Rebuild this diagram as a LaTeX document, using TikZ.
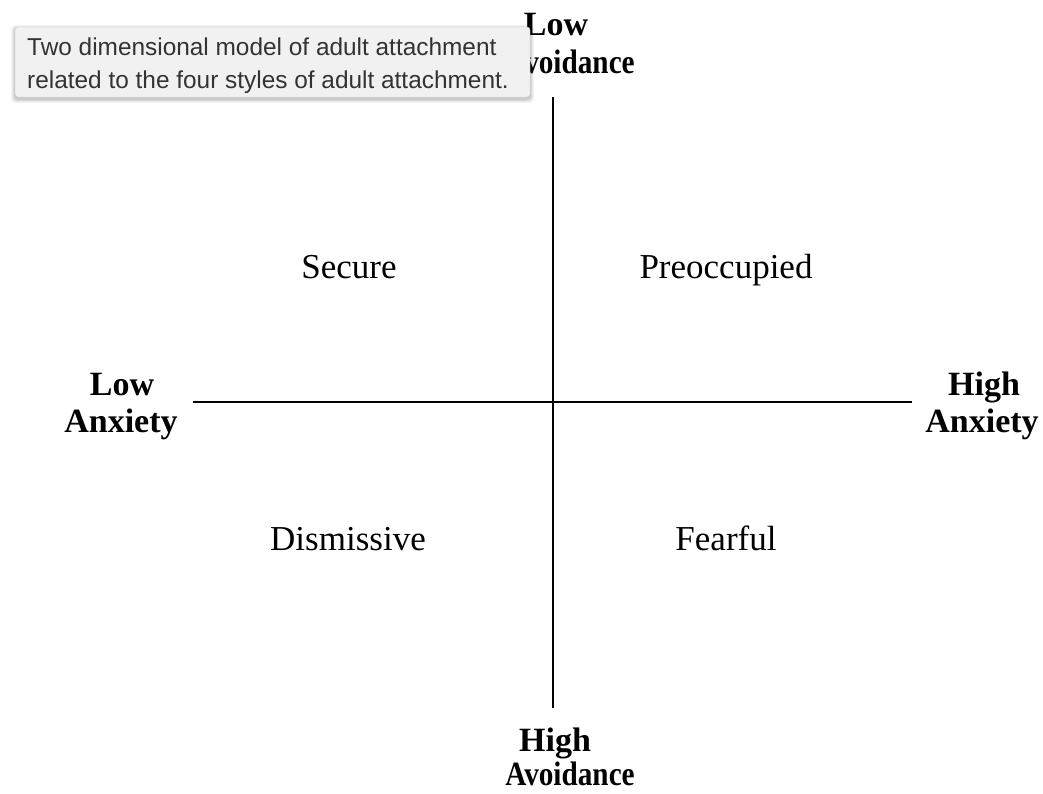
\documentclass[tikz,border=0pt]{standalone}
\usepackage{graphicx}
\usepackage{fontspec}
\setmainfont{Liberation Serif}
\newfontfamily\tipfont{Liberation Sans}
\definecolor{tipfill}{HTML}{F1F1F1}
\definecolor{tipedge}{HTML}{CFCFCF}
\definecolor{tiptext}{HTML}{333333}
\newcommand{\narrowav}{\scalebox{0.86}[1]{Avoidance}}
\begin{document}
\begin{tikzpicture}[x=1pt,y=-1pt,
  axislabel/.style={anchor=base,inner sep=0pt,font=\bfseries\fontsize{34}{37}\selectfont},
  quadlabel/.style={anchor=base,inner sep=0pt,font=\fontsize{35}{38}\selectfont},
  axisline/.style={line width=2pt,black},
  tiptextstyle/.style={anchor=base west,inner sep=0pt,text=tiptext,font=\tipfont\fontsize{24.4}{28}\selectfont}]
\useasboundingbox (0,0) rectangle (1043,793);
% axes
\coordinate (vtop) at (553,97);
\coordinate (vbot) at (553,708);
\coordinate (hleft) at (193,402);
\coordinate (hright) at (912,402);
\draw[axisline] (vtop) -- (vbot);
\draw[axisline] (hleft) -- (hright);
% axis labels
\node[axislabel] (lowav) at (556,35) {Low};
\node[axislabel] (lowav2) at (570,73) {\narrowav};
\node[axislabel] (highav) at (555,751) {High};
\node[axislabel] (highav2) at (570,785) {\narrowav};
\node[axislabel] (lowanx) at (122,395) {Low};
\node[axislabel] (lowanx2) at (121,432) {Anxiety};
\node[axislabel] (highanx) at (984,395) {High};
\node[axislabel] (highanx2) at (982,432) {Anxiety};
% quadrants
\node[quadlabel] (secure) at (349,278) {Secure};
\node[quadlabel] (preocc) at (726,278) {Preoccupied};
\node[quadlabel] (dismiss) at (348,550) {Dismissive};
\node[quadlabel] (fearful) at (726,550) {Fearful};
% tooltip
\foreach \o/\op in {4/0.04,3/0.05,2/0.06,1/0.08}{
  \fill[black,opacity=\op,rounded corners=4pt] (15-\o,27-\o+2) rectangle (530+\o,97+\o+2);
}
\draw[tipedge,fill=tipfill,rounded corners=3pt] (15,27) rectangle (530,97);
\node[tiptextstyle] (tip1) at (27,55) {Two dimensional model of adult attachment};
\node[tiptextstyle] (tip2) at (27,88) {related to the four styles of adult attachment.};
\end{tikzpicture}
\end{document}
